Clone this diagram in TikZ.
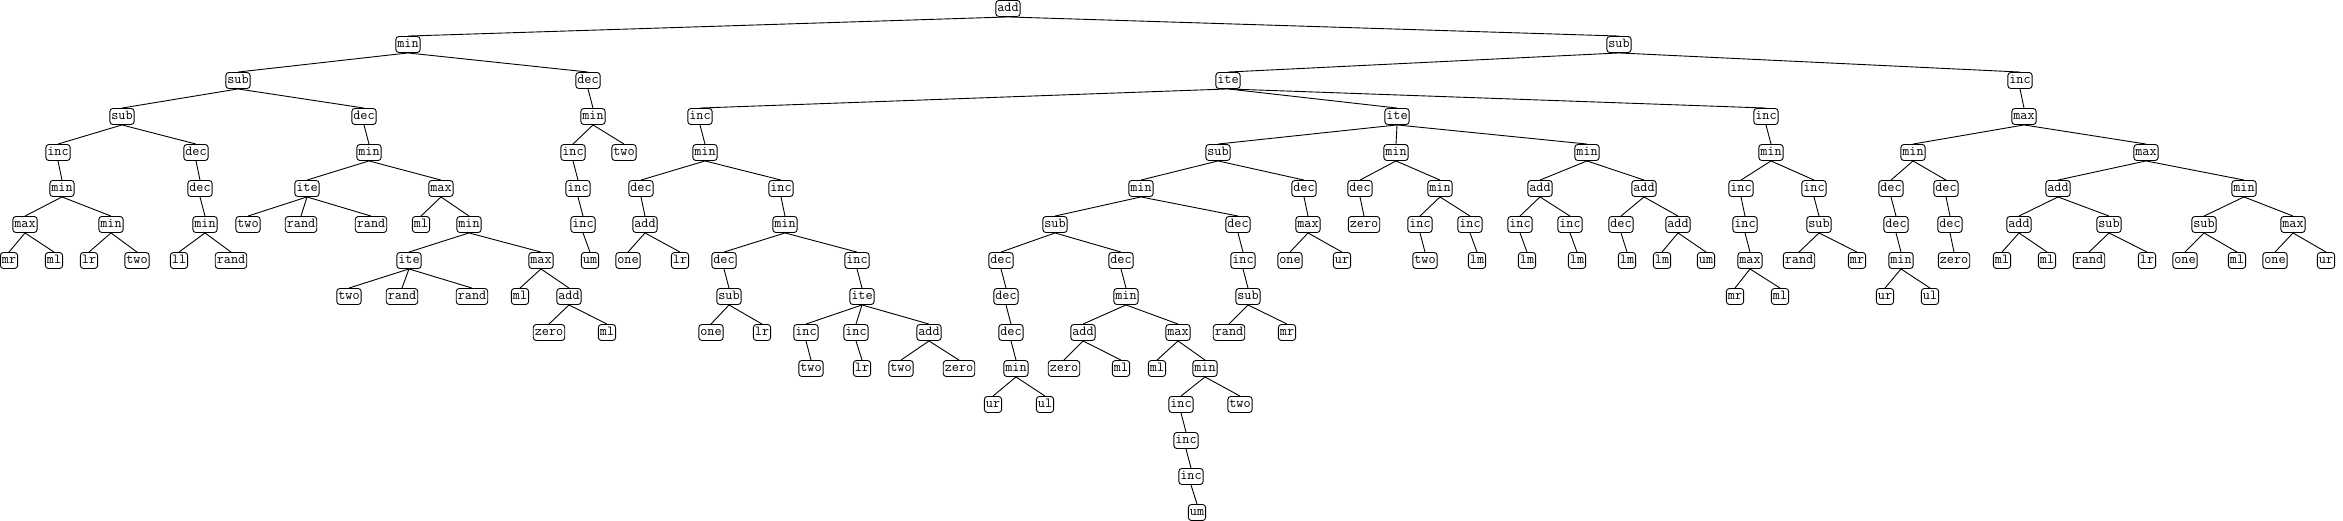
\documentclass[tikz,border=0pt]{standalone}
\usepackage{fontspec}
\usepackage{tikz}
\usetikzlibrary{positioning}

\begin{document}
\begin{tikzpicture}[x=1pt, y=-1pt, line width=0.9pt,
  opnode/.style={draw, rounded corners=3pt, fill=white, font=\fontsize{13.8}{14}\selectfont\ttfamily,
    inner xsep=1.5pt, inner ysep=2.5pt, text height=8.5pt, text depth=2.5pt}]
  \useasboundingbox (0,0) rectangle (2343,521);

  % root
  \node[opnode] (add) at (1008, 8.5) {add};

  % left branch: min
  \node[opnode] (A1) at (408, 44.5) {min};
  \node[opnode] (A2) at (238, 80.5) {sub};
  \node[opnode] (A3) at (122, 116.5) {sub};
  \node[opnode] (A4) at (58, 152.5) {inc};
  \node[opnode] (A5) at (62, 188.5) {min};
  \node[opnode] (A6) at (25, 224.5) {max};
  \node[opnode] (A7) at (9, 260.5) {mr};
  \node[opnode] (A8) at (54, 260.5) {ml};
  \node[opnode] (A9) at (111, 224.5) {min};
  \node[opnode] (A10) at (89, 260.5) {lr};
  \node[opnode] (A11) at (137, 260.5) {two};
  \node[opnode] (A12) at (196, 152.5) {dec};
  \node[opnode] (A13) at (200, 188.5) {dec};
  \node[opnode] (A14) at (205, 224.5) {min};
  \node[opnode] (A15) at (179, 260.5) {ll};
  \node[opnode] (A16) at (231, 260.5) {rand};
  \node[opnode] (A17) at (364, 116.5) {dec};
  \node[opnode] (A18) at (369, 152.5) {min};
  \node[opnode] (A19) at (307, 188.5) {ite};
  \node[opnode] (A20) at (248, 224.5) {two};
  \node[opnode] (A21) at (301, 224.5) {rand};
  \node[opnode] (A22) at (371, 224.5) {rand};
  \node[opnode] (A23) at (441, 188.5) {max};
  \node[opnode] (A24) at (421, 224.5) {ml};
  \node[opnode] (A25) at (469, 224.5) {min};
  \node[opnode] (A26) at (409, 260.5) {ite};
  \node[opnode] (A27) at (349, 296.5) {two};
  \node[opnode] (A28) at (402, 296.5) {rand};
  \node[opnode] (A29) at (472, 296.5) {rand};
  \node[opnode] (A30) at (541, 260.5) {max};
  \node[opnode] (A31) at (520, 296.5) {ml};
  \node[opnode] (A32) at (569, 296.5) {add};
  \node[opnode] (A33) at (549, 332.5) {zero};
  \node[opnode] (A34) at (607, 332.5) {ml};
  \node[opnode] (A35) at (588, 80.5) {dec};
  \node[opnode] (A36) at (593, 116.5) {min};
  \node[opnode] (A37) at (573, 152.5) {inc};
  \node[opnode] (A38) at (578, 188.5) {inc};
  \node[opnode] (A39) at (583, 224.5) {inc};
  \node[opnode] (A40) at (590, 260.5) {um};
  \node[opnode] (A41) at (624, 152.5) {two};
  \foreach \p/\c in {add/A1, A1/A2, A2/A3, A3/A4, A4/A5, A5/A6, A6/A7, A6/A8, A5/A9, A9/A10, A9/A11,
      A3/A12, A12/A13, A13/A14, A14/A15, A14/A16, A2/A17, A17/A18, A18/A19, A19/A20, A19/A21, A19/A22,
      A18/A23, A23/A24, A23/A25, A25/A26, A26/A27, A26/A28, A26/A29, A25/A30, A30/A31, A30/A32,
      A32/A33, A32/A34, A1/A35, A35/A36, A36/A37, A37/A38, A38/A39, A39/A40, A36/A41}
    \draw (\p.south) -- (\c.north);

  % right branch: sub, ite
  \node[opnode] (S) at (1619, 44.5) {sub};
  \node[opnode] (T) at (1228, 80.5) {ite};
  \draw (add.south) -- (S.north);
  \draw (S.south) -- (T.north);

  % ite, first argument
  \node[opnode] (B1) at (700, 116.5) {inc};
  \node[opnode] (B2) at (705, 152.5) {min};
  \node[opnode] (B3) at (641, 188.5) {dec};
  \node[opnode] (B4) at (645, 224.5) {add};
  \node[opnode] (B5) at (628, 260.5) {one};
  \node[opnode] (B6) at (680, 260.5) {lr};
  \node[opnode] (B7) at (781, 188.5) {inc};
  \node[opnode] (B8) at (785, 224.5) {min};
  \node[opnode] (B9) at (724, 260.5) {dec};
  \node[opnode] (B10) at (729, 296.5) {sub};
  \node[opnode] (B11) at (711, 332.5) {one};
  \node[opnode] (B12) at (762, 332.5) {lr};
  \node[opnode] (B13) at (857, 260.5) {inc};
  \node[opnode] (B14) at (862, 296.5) {ite};
  \node[opnode] (B15) at (806, 332.5) {inc};
  \node[opnode] (B16) at (811, 368.5) {two};
  \node[opnode] (B17) at (856, 332.5) {inc};
  \node[opnode] (B18) at (862, 368.5) {lr};
  \node[opnode] (B19) at (929, 332.5) {add};
  \node[opnode] (B20) at (901, 368.5) {two};
  \node[opnode] (B21) at (959, 368.5) {zero};
  \foreach \p/\c in {T/B1, B1/B2, B2/B3, B3/B4, B4/B5, B4/B6, B2/B7, B7/B8, B8/B9, B9/B10, B10/B11,
      B10/B12, B8/B13, B13/B14, B14/B15, B15/B16, B14/B17, B17/B18, B14/B19, B19/B20, B19/B21}
    \draw (\p.south) -- (\c.north);

  % ite, second argument
  \node[opnode] (C1) at (1397, 116.5) {ite};
  \node[opnode] (C2) at (1218, 152.5) {sub};
  \node[opnode] (C3) at (1141, 188.5) {min};
  \node[opnode] (C4) at (1055, 224.5) {sub};
  \node[opnode] (C5) at (1001, 260.5) {dec};
  \node[opnode] (C6) at (1006, 296.5) {dec};
  \node[opnode] (C7) at (1011, 332.5) {dec};
  \node[opnode] (C8) at (1016, 368.5) {min};
  \node[opnode] (C9) at (993, 404.5) {ur};
  \node[opnode] (C10) at (1045, 404.5) {ul};
  \node[opnode] (C11) at (1121, 260.5) {dec};
  \node[opnode] (C12) at (1126, 296.5) {min};
  \node[opnode] (C13) at (1083, 332.5) {add};
  \node[opnode] (C14) at (1064, 368.5) {zero};
  \node[opnode] (C15) at (1121, 368.5) {ml};
  \node[opnode] (C16) at (1178, 332.5) {max};
  \node[opnode] (C17) at (1157, 368.5) {ml};
  \node[opnode] (C18) at (1205, 368.5) {min};
  \node[opnode] (C19) at (1181, 404.5) {inc};
  \node[opnode] (C20) at (1186, 440.5) {inc};
  \node[opnode] (C21) at (1191, 476.5) {inc};
  \node[opnode] (C22) at (1197, 512.5) {um};
  \node[opnode] (C23) at (1240, 404.5) {two};
  \node[opnode] (C24) at (1238, 224.5) {dec};
  \node[opnode] (C25) at (1243, 260.5) {inc};
  \node[opnode] (C26) at (1248, 296.5) {sub};
  \node[opnode] (C27) at (1229, 332.5) {rand};
  \node[opnode] (C28) at (1287, 332.5) {mr};
  \node[opnode] (C29) at (1304, 188.5) {dec};
  \node[opnode] (C30) at (1308, 224.5) {max};
  \node[opnode] (C31) at (1290, 260.5) {one};
  \node[opnode] (C32) at (1342, 260.5) {ur};
  \node[opnode] (C33) at (1396, 152.5) {min};
  \node[opnode] (C34) at (1360, 188.5) {dec};
  \node[opnode] (C35) at (1364, 224.5) {zero};
  \node[opnode] (C36) at (1440, 188.5) {min};
  \node[opnode] (C37) at (1420, 224.5) {inc};
  \node[opnode] (C38) at (1425, 260.5) {two};
  \node[opnode] (C39) at (1470, 224.5) {inc};
  \node[opnode] (C40) at (1477, 260.5) {lm};
  \node[opnode] (C41) at (1587, 152.5) {min};
  \node[opnode] (C42) at (1540, 188.5) {add};
  \node[opnode] (C43) at (1520, 224.5) {inc};
  \node[opnode] (C44) at (1527, 260.5) {lm};
  \node[opnode] (C45) at (1570, 224.5) {inc};
  \node[opnode] (C46) at (1577, 260.5) {lm};
  \node[opnode] (C47) at (1644, 188.5) {add};
  \node[opnode] (C48) at (1621, 224.5) {dec};
  \node[opnode] (C49) at (1627, 260.5) {lm};
  \node[opnode] (C50) at (1678, 224.5) {add};
  \node[opnode] (C51) at (1662, 260.5) {lm};
  \node[opnode] (C52) at (1706, 260.5) {um};
  \foreach \p/\c in {T/C1, C1/C2, C2/C3, C3/C4, C4/C5, C5/C6, C6/C7, C7/C8, C8/C9, C8/C10, C4/C11,
      C11/C12, C12/C13, C13/C14, C13/C15, C12/C16, C16/C17, C16/C18, C18/C19, C19/C20, C20/C21,
      C21/C22, C18/C23, C3/C24, C24/C25, C25/C26, C26/C27, C26/C28, C2/C29, C29/C30, C30/C31,
      C30/C32, C1/C33, C33/C34, C34/C35, C33/C36, C36/C37, C37/C38, C36/C39, C39/C40, C1/C41,
      C41/C42, C42/C43, C43/C44, C42/C45, C45/C46, C41/C47, C47/C48, C48/C49, C47/C50, C50/C51, C50/C52}
    \draw (\p.south) -- (\c.north);

  % ite, third argument
  \node[opnode] (D1) at (1766, 116.5) {inc};
  \node[opnode] (D2) at (1771, 152.5) {min};
  \node[opnode] (D3) at (1741, 188.5) {inc};
  \node[opnode] (D4) at (1745, 224.5) {inc};
  \node[opnode] (D5) at (1750, 260.5) {max};
  \node[opnode] (D6) at (1735, 296.5) {mr};
  \node[opnode] (D7) at (1780, 296.5) {ml};
  \node[opnode] (D8) at (1814, 188.5) {inc};
  \node[opnode] (D9) at (1819, 224.5) {sub};
  \node[opnode] (D10) at (1799, 260.5) {rand};
  \node[opnode] (D11) at (1857, 260.5) {mr};
  \foreach \p/\c in {T/D1, D1/D2, D2/D3, D3/D4, D4/D5, D5/D6, D5/D7, D2/D8, D8/D9, D9/D10, D9/D11}
    \draw (\p.south) -- (\c.north);

  % sub, second argument
  \node[opnode] (E1) at (2020, 80.5) {inc};
  \node[opnode] (E2) at (2024, 116.5) {max};
  \node[opnode] (E3) at (1913, 152.5) {min};
  \node[opnode] (E4) at (1891, 188.5) {dec};
  \node[opnode] (E5) at (1896, 224.5) {dec};
  \node[opnode] (E6) at (1901, 260.5) {min};
  \node[opnode] (E7) at (1885, 296.5) {ur};
  \node[opnode] (E8) at (1930, 296.5) {ul};
  \node[opnode] (E9) at (1946, 188.5) {dec};
  \node[opnode] (E10) at (1950, 224.5) {dec};
  \node[opnode] (E11) at (1954, 260.5) {zero};
  \node[opnode] (E12) at (2146, 152.5) {max};
  \node[opnode] (E13) at (2058, 188.5) {add};
  \node[opnode] (E14) at (2019, 224.5) {add};
  \node[opnode] (E15) at (2002, 260.5) {ml};
  \node[opnode] (E16) at (2047, 260.5) {ml};
  \node[opnode] (E17) at (2109, 224.5) {sub};
  \node[opnode] (E18) at (2089, 260.5) {rand};
  \node[opnode] (E19) at (2147, 260.5) {lr};
  \node[opnode] (E20) at (2244, 188.5) {min};
  \node[opnode] (E21) at (2204, 224.5) {sub};
  \node[opnode] (E22) at (2185, 260.5) {one};
  \node[opnode] (E23) at (2237, 260.5) {ml};
  \node[opnode] (E24) at (2293, 224.5) {max};
  \node[opnode] (E25) at (2275, 260.5) {one};
  \node[opnode] (E26) at (2326, 260.5) {ur};
  \foreach \p/\c in {S/E1, E1/E2, E2/E3, E3/E4, E4/E5, E5/E6, E6/E7, E6/E8, E3/E9, E9/E10, E10/E11,
      E2/E12, E12/E13, E13/E14, E14/E15, E14/E16, E13/E17, E17/E18, E17/E19, E12/E20, E20/E21,
      E21/E22, E21/E23, E20/E24, E24/E25, E24/E26}
    \draw (\p.south) -- (\c.north);
\end{tikzpicture}
\end{document}
